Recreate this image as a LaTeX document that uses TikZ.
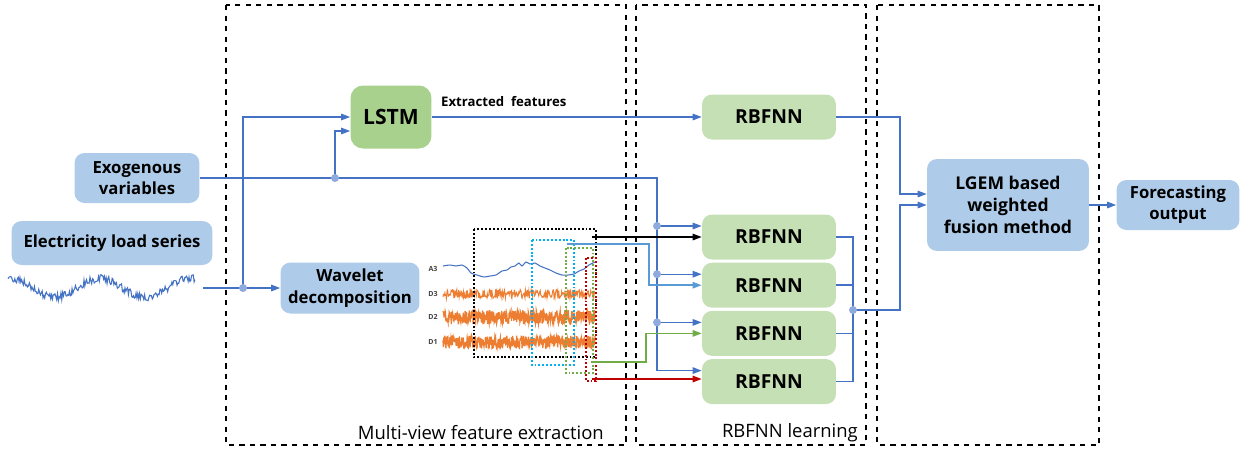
\documentclass[tikz,border=0pt]{standalone}
\usepackage{fontspec}
\setmainfont{Open Sans}
\usetikzlibrary{arrows.meta,positioning}

\definecolor{boxblue}{RGB}{174,204,233}
\definecolor{boxgreen}{RGB}{198,224,181}
\definecolor{lstmgreen}{RGB}{169,209,142}
\definecolor{linkblue}{RGB}{68,114,196}
\definecolor{dotblue}{RGB}{143,170,220}
\definecolor{lightlink}{RGB}{91,155,213}
\definecolor{sigorange}{RGB}{237,125,49}
\definecolor{siggreen}{RGB}{112,173,71}
\definecolor{sigred}{RGB}{192,0,0}
\definecolor{sigcyan}{RGB}{0,176,240}

\tikzset{
  bluebox/.style={rectangle, rounded corners=0.2cm, fill=boxblue, align=center,
    font=\bfseries\fontsize{9.5}{12}\selectfont, inner sep=0pt},
  rbfbox/.style={rectangle, rounded corners=0.2cm, fill=boxgreen, align=center,
    font=\bfseries\fontsize{11}{13}\selectfont, minimum width=2.68cm, minimum height=0.9cm},
  link/.style={linkblue, line width=0.8pt},
  arr/.style={link, -{Triangle[length=0.18cm,width=0.13cm]}},
  junc/.style={circle, fill=dotblue, inner sep=0pt, minimum size=0.16cm},
  stage/.style={dashed, line width=0.7pt},
  window/.style={line width=1.1pt, dash pattern=on 1.1pt off 1.1pt},
  siglabel/.style={font=\bfseries\fontsize{4}{5}\selectfont, text=black!75}
}

\begin{document}
\begin{tikzpicture}[x=0.02cm, y=-0.02cm]
  \useasboundingbox (0,0) rectangle (1249,451);

  % 1. Stage frames and their titles
  \draw[stage] (226,5) rectangle (626,445);
  \draw[stage] (636,5) rectangle (866,445);
  \draw[stage] (877,5) rectangle (1099,445);
  \node[anchor=east, font=\fontsize{10.5}{12}\selectfont] (mvtitle) at (610,433) {Multi-view feature extraction};
  \node[anchor=east, font=\fontsize{10.5}{12}\selectfont] (rltitle) at (864,433) {RBFNN learning};

  % 2. Inputs
  \node[bluebox, minimum width=2.5cm, minimum height=1cm] (exo) at (137,178) {Exogenous\\variables};
  \node[bluebox, minimum width=4.02cm, minimum height=0.88cm] (load) at (112,243) {Electricity load series};
  \pgfmathsetseed{11}
  \draw[linkblue, line width=0.6pt] plot[domain=8:195, samples=220, variable=\x]
      ({\x}, {288-9.5*cos(4*(\x-10))+4*rand});
  \coordinate (wend) at (203,288);

  % 3. Feature extraction blocks
  \node[rectangle, rounded corners=0.25cm, fill=lstmgreen, minimum width=1.62cm, minimum height=1.26cm,
        font=\bfseries\fontsize{12}{14}\selectfont] (lstm) at (391,117) {LSTM};
  \node[bluebox, minimum width=2.78cm, minimum height=1.02cm, font=\bfseries\fontsize{9.5}{12.5}\selectfont]
        (wav) at (350,288) {Wavelet\\decomposition};
  \node[anchor=west, font=\bfseries\fontsize{7.5}{9}\selectfont] (feat) at (435,102) {Extracted~ features};

  % 4. Wavelet components A3, D3, D2, D1
  \node[siglabel] (la3) at (433,269) {A3};
  \node[siglabel] (ld3) at (433,294) {D3};
  \node[siglabel] (ld2) at (433,317) {D2};
  \node[siglabel] (ld1) at (433,342) {D1};
  \draw[linkblue, line width=0.6pt] plot[smooth, tension=0.4] coordinates {
      (443,266) (450,265) (456,266) (462,265) (467,268) (471,273) (477,275) (484,277)
      (490,276) (496,275) (502,271) (507,270) (511,267) (515,266) (519,263) (522,266)
      (526,262) (530,264) (535,263) (540,266) (545,268) (550,270) (556,273) (562,275)
      (568,275) (574,274) (579,271) (584,269) (589,265) (595,262)};
  \draw[sigorange, line width=0.55pt] plot[domain=443:595, samples=320, variable=\x] ({\x}, {294+4.5*rand});
  \draw[sigorange, line width=0.7pt] plot[domain=443:595, samples=420, variable=\x] ({\x}, {317+7*rand});
  \draw[sigorange, line width=0.7pt] plot[domain=443:595, samples=420, variable=\x] ({\x}, {342+6.5*rand});

  % 5. Multi-view windows over the components
  \draw[window, black] (474,229) rectangle (596,357);
  \draw[window, sigcyan] (532,240) rectangle (574,365);
  \draw[window, siggreen] (566,248) rectangle (593,373);
  \draw[window, sigred] (586,258) rectangle (596,381);

  % 6. RBFNN learners
  \node[rbfbox] (rbt) at (769,117) {RBFNN};
  \node[rbfbox] (rb1) at (769,237) {RBFNN};
  \node[rbfbox, below=0.05cm of rb1] (rb2) {RBFNN};
  \node[rbfbox, below=0.05cm of rb2] (rb3) {RBFNN};
  \node[rbfbox, below=0.05cm of rb3] (rb4) {RBFNN};

  % 7. Fusion and output
  \node[bluebox, minimum width=3.24cm, minimum height=1.84cm, font=\bfseries\fontsize{10}{12.5}\selectfont]
        (lgem) at (1008,205) {LGEM based\\weighted\\fusion method};
  \node[bluebox, minimum width=2.46cm, minimum height=1cm] (fout) at (1178,205) {Forecasting\\output};

  % 8. Connectors
  \coordinate (split) at (243,288);
  \coordinate (ejoin) at (335,178);
  \coordinate (ebus) at (657,178);
  \coordinate (lin2) at ([yshift=-0.28cm]lstm.west);
  \draw[arr] (wend) -- (wav.west);
  \draw[arr] (split) |- (lstm.west);
  \draw[arr] (exo.east) -- (ebus) |- ([yshift=0.22cm]rb4.west);
  \draw[arr] (ejoin) |- (lin2);
  \draw[arr] (lstm.east) -- (rbt.west);
  \foreach \r in {rb1,rb2,rb3}{
    \coordinate (\r in) at ([yshift=0.22cm]\r.west);
    \draw[arr] (\r in -| ebus) -- (\r in);
    \node[junc] at (\r in -| ebus) {};
  }
  \node[junc] at (split) {};
  \node[junc] at (ejoin) {};

  % colored views into the learners
  \coordinate (vblack) at (592,237);
  \coordinate (vcyan) at (567,244);
  \coordinate (vgreen) at (591,362);
  \coordinate (vred) at (592,379);
  \draw[black, line width=0.8pt, -{Triangle[length=0.18cm,width=0.13cm]}] (vblack) -- (vblack -| rb1.west);
  \draw[lightlink, line width=0.8pt, -{Triangle[length=0.18cm,width=0.13cm]}] (vcyan) -- (649,244) |- (rb2.west);
  \draw[siggreen, line width=0.8pt, -{Triangle[length=0.18cm,width=0.13cm]}] (vgreen) -- (646,362) |- (rb3.west);
  \draw[sigred, line width=0.8pt, -{Triangle[length=0.18cm,width=0.13cm]}] (vred) -- (vred -| rb4.west);

  % learners into the fusion block
  \coordinate (busx) at (853,0);
  \coordinate (bus) at (853,310);
  \draw[link] (rb1.east) -- (rb1.east -| busx) -- (rb4.east -| busx) -- (rb4.east);
  \draw[link] (rb2.east) -- (rb2.east -| busx);
  \draw[link] (rb3.east) -- (rb3.east -| busx);
  \draw[arr] (rbt.east) -- (900,117) |- ([yshift=0.22cm]lgem.west);
  \draw[arr] (bus) -- (900,310) |- (lgem.west);
  \node[junc] at (bus) {};
  \draw[arr] (lgem.east) -- (fout.west);
\end{tikzpicture}
\end{document}
